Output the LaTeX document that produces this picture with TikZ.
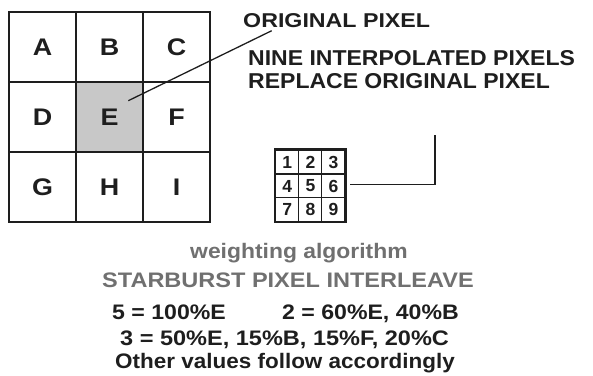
\documentclass[tikz,border=0pt]{standalone}
\usepackage{fontspec}
\setmainfont{Liberation Sans}
\usepackage{graphicx}
\newcommand{\hs}[2]{\scalebox{#1}[1]{#2}}
\definecolor{cellgray}{HTML}{C8C8C8}
\definecolor{txtgray}{HTML}{707070}
\definecolor{ink}{HTML}{1E1E1E}
\tikzset{
  bigcell/.style={draw=ink, line width=2pt, minimum width=67pt, minimum height=70pt, inner sep=0pt,
    text=ink, font=\bfseries\fontsize{24}{26}\selectfont},
  smallcell/.style={draw=ink, line width=1pt, minimum width=23.1pt, minimum height=23.9pt, inner sep=0pt,
    text=ink, font=\bfseries\fontsize{17.5}{19}\selectfont},
  lbl/.style={anchor=base west, inner sep=0pt, text=ink, font=\bfseries\fontsize{21.5}{24}\selectfont},
  graylbl/.style={anchor=base west, inner sep=0pt, text=txtgray, font=\bfseries\fontsize{21}{24}\selectfont},
  botlbl/.style={anchor=base west, inner sep=0pt, text=ink, font=\bfseries\fontsize{21}{24}\selectfont},
  wire/.style={draw=ink, line width=1.4pt},
}
\begin{document}
\begin{tikzpicture}[x=1pt,y=-1pt]
\useasboundingbox (0,0) rectangle (593,375);
% big grid
\node[bigcell] (A) at (42.5,47) {\hs{1.12}{A}};
\node[bigcell] (B) at (109.5,47) {\hs{1.12}{B}};
\node[bigcell] (C) at (176.5,47) {\hs{1.12}{C}};
\node[bigcell] (D) at (42.5,117) {\hs{1.12}{D}};
\node[bigcell, fill=cellgray] (E) at (109.5,117) {\hs{1.12}{E}};
\node[bigcell] (F) at (176.5,117) {\hs{1.12}{F}};
\node[bigcell] (G) at (42.5,187) {\hs{1.12}{G}};
\node[bigcell] (H) at (109.5,187) {\hs{1.12}{H}};
\node[bigcell] (I) at (176.5,187) {\hs{1.12}{I}};
% labels
\node[lbl, font=\bfseries\fontsize{20}{22}\selectfont] (orig) at (243,27) {\hs{1.16}{ORIGINAL PIXEL}};
\node[lbl] (nine) at (248,65) {\hs{1.07}{NINE INTERPOLATED PIXELS}};
\node[lbl] (repl) at (248,88) {\hs{1.07}{REPLACE ORIGINAL PIXEL}};
% leader from E
\coordinate (eptr) at (128.3,100.7);
\coordinate (optr) at (271.7,30.7);
\draw[wire, line width=1.3pt] (eptr) -- (optr);
% small grid
\node[smallcell] (s1) at (287.3,162) {1};
\node[smallcell] (s2) at (310.4,162) {2};
\node[smallcell] (s3) at (333.5,162) {3};
\node[smallcell] (s4) at (287.3,186) {4};
\node[smallcell] (s5) at (310.4,186) {5};
\node[smallcell] (s6) at (333.5,186) {6};
\node[smallcell] (s7) at (287.3,209.8) {7};
\node[smallcell] (s8) at (310.4,209.8) {8};
\node[smallcell] (s9) at (333.5,209.8) {9};
\draw[draw=ink, line width=2.4pt] (s1.north west) rectangle (s9.south east);
% connector from small grid
\coordinate (gout) at (350,184.3);
\coordinate (gup) at (435,135);
\draw[wire] (gout) -| (gup);
% bottom text
\node[graylbl] (wt) at (190,258) {\hs{1.09}{weighting algorithm}};
\node[graylbl] (sb) at (102,287) {\hs{1.12}{STARBURST PIXEL INTERLEAVE}};
\node[botlbl] (l1a) at (112,319) {\hs{1.1}{5 = 100\%E}};
\node[botlbl] (l1b) at (282,319) {\hs{1.1}{2 = 60\%E, 40\%B}};
\node[botlbl] (l2) at (120,345) {\hs{1.12}{3 = 50\%E, 15\%B, 15\%F, 20\%C}};
\node[botlbl] (l3) at (115,368) {\hs{1.07}{Other values follow accordingly}};
\end{tikzpicture}
\end{document}
